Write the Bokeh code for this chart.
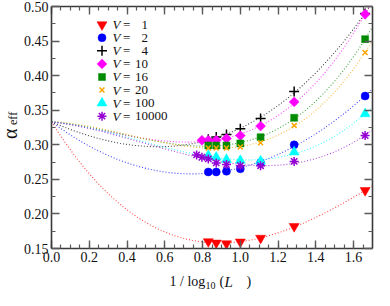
import numpy as np
from bokeh.plotting import figure
from bokeh.layouts import row, column
from bokeh.models import (LinearAxis, Range1d, SingleIntervalTicker,
                          NumeralTickFormatter, CustomJSTickFormatter)
from bokeh.embed import file_html
from bokeh.resources import INLINE
from bokeh.core.properties import value

# ---------------- data ----------------
V_names = ["1", "2", "4", "10", "16", "20", "100", "10000"]

L_V1 = [16, 14, 12, 10, 8, 6, 4]
a_V1 = [0.160, 0.158, 0.157, 0.1595, 0.165, 0.182, 0.234]

L_V2 = [16, 14, 12, 10, 8, 6, 4]
a_V2 = [0.2607, 0.2607, 0.2617, 0.2652, 0.274, 0.2999, 0.3705]

L_V4 = [16, 14, 12, 10, 8, 6, 4]
a_V4 = [0.308, 0.3112, 0.3147, 0.3232, 0.338, 0.3772, 0.490]

L_V10 = [18, 16, 14, 12, 10, 8, 6, 4]
a_V10 = [0.3065, 0.3065, 0.3065, 0.309, 0.3133, 0.327, 0.362, 0.4888]

L_V16 = [16, 14, 12, 10, 8, 6, 4]
a_V16 = [0.299, 0.299, 0.299, 0.302, 0.311, 0.339, 0.4528]

L_V20 = [16, 14, 12, 10, 8, 6, 4]
a_V20 = [0.2954, 0.2954, 0.2954, 0.2968, 0.303, 0.328, 0.4335]

L_V100 = [16, 14, 12, 10, 8, 6, 4]
a_V100 = [0.2845, 0.282, 0.2787, 0.2773, 0.2765, 0.2895, 0.3448]

L_V10000 = [20, 18, 16, 14, 12, 10, 8, 6, 4]
a_V10000 = [0.2854, 0.282, 0.2796, 0.2738, 0.2715, 0.2698, 0.2698, 0.276, 0.3134]

alpha_limit = 1.0 / 3.0   # all fits start from 1/3 at 1/log10(L) = 0

x_tick_interval = 0.2
y_tick_interval = 0.05

series_L = [L_V1, L_V2, L_V4, L_V10, L_V16, L_V20, L_V100, L_V10000]
series_a = [a_V1, a_V2, a_V4, a_V10, a_V16, a_V20, a_V100, a_V10000]

colors = ["#ff0000", "#0000ff", "#000000", "#ff00ff", "#008b00", "#ffa500", "#00ffff", "#9400d3"]
markers = ["inverted_triangle", "circle", "cross", "square", "square", "x", "triangle", "asterisk"]
msizes = [10, 8, 10, 7, 7, 7, 10, 9]
mangles = [0, 0, 0, np.pi / 4, 0, 0, 0, 0]

FONT = "Liberation Serif"
TXT = "#111111"

W, H = 374, 290
YLAB_W = 20
XLAB_H = 24

# ---------------- main figure ----------------
p = figure(width=W - YLAB_W, height=H - XLAB_H, output_backend="svg", toolbar_location=None,
           x_range=Range1d(0.0, 1.7), y_range=Range1d(0.15, 0.50),
           min_border_left=31, min_border_right=2, min_border_top=6, min_border_bottom=18,
           x_axis_location=None, y_axis_location=None)
p.grid.visible = False
p.outline_line_color = None
p.background_fill_color = "white"

xt = SingleIntervalTicker(interval=x_tick_interval, num_minor_ticks=4)
yt = SingleIntervalTicker(interval=y_tick_interval, num_minor_ticks=2)
blank = CustomJSTickFormatter(code="return ''")


def style_axis(ax, labels=True):
    ax.axis_line_color = "#3a3a3a"
    ax.axis_line_width = 1.6
    ax.major_tick_in = 8
    ax.major_tick_out = 0
    ax.minor_tick_in = 4
    ax.minor_tick_out = 0
    ax.major_tick_line_color = "#5a5a5a"
    ax.minor_tick_line_color = "#5a5a5a"
    ax.major_tick_line_width = 1.4
    ax.minor_tick_line_width = 1.2
    ax.major_label_text_font = FONT
    ax.major_label_text_font_size = "14px"
    ax.major_label_text_color = TXT
    ax.major_label_standoff = 3
    if not labels:
        ax.formatter = blank
        ax.major_label_text_font_size = "0px"
        ax.major_label_standoff = 0


bx = LinearAxis(ticker=xt, formatter=NumeralTickFormatter(format="0.0"))
style_axis(bx)
ly = LinearAxis(ticker=yt, formatter=NumeralTickFormatter(format="0.00"))
style_axis(ly)
tx = LinearAxis(ticker=xt)
style_axis(tx, labels=False)
ry = LinearAxis(ticker=yt)
style_axis(ry, labels=False)
p.add_layout(bx, "below")
p.add_layout(ly, "left")
p.add_layout(tx, "above")
p.add_layout(ry, "right")

# ---------------- fits (cubic, constrained to 1/3 at x=0) ----------------
xfit = np.linspace(0.0, 1.7, 300)
for L, a, c in zip(series_L, series_a, colors):
    x = 1.0 / np.log10(np.array(L, dtype=float))
    A = np.vstack([x, x ** 2, x ** 3]).T
    coef, *_ = np.linalg.lstsq(A, np.array(a) - alpha_limit, rcond=None)
    yfit = alpha_limit + coef[0] * xfit + coef[1] * xfit ** 2 + coef[2] * xfit ** 3
    p.line(xfit, yfit, line_color=c, line_width=1.1, line_dash="1 2", line_alpha=0.75)

# ---------------- points ----------------
for L, a, c, m, s, ang in zip(series_L, series_a, colors, markers, msizes, mangles):
    x = 1.0 / np.log10(np.array(L, dtype=float))
    if m in ("cross", "x", "asterisk"):
        p.scatter(x, a, marker=m, size=s, line_color=c, line_width=1.5, angle=ang)
    else:
        p.scatter(x, a, marker=m, size=s, fill_color=c, line_color=c, line_width=0.5, angle=ang)

# ---------------- legend (drawn by hand so that V is italic) ----------------
leg_top = 0.4737
leg_step = 0.0189
leg_marker_x = 0.2675
leg_text_x = 0.323
for i, (name, c, m, s, ang) in enumerate(zip(V_names, colors, markers, msizes, mangles)):
    yy = leg_top - i * leg_step
    if m in ("cross", "x", "asterisk"):
        p.scatter([leg_marker_x], [yy], marker=m, size=s, line_color=c, line_width=1.5, angle=ang)
    else:
        p.scatter([leg_marker_x], [yy], marker=m, size=s, fill_color=c, line_color=c,
                  line_width=0.5, angle=ang)
    p.text([leg_text_x], [yy], text=["V"], text_font=value(FONT), text_font_style="italic",
           text_font_size="13px", text_baseline="middle", text_align="left", text_color=TXT)
    p.text([leg_text_x], [yy], text=["="], x_offset=10.5, text_font=value(FONT),
           text_font_size="13px", text_baseline="middle", text_align="left", text_color=TXT)
    off = 22.5 if len(name) > 1 else 29
    p.text([leg_text_x], [yy], text=[name], x_offset=off, text_font=value(FONT),
           text_font_size="13px", text_baseline="middle", text_align="left", text_color=TXT)


# ---------------- axis titles in small side figures (pixel data units) ----------------
def text_strip(w, h):
    f = figure(width=w, height=h, output_backend="svg", toolbar_location=None,
               x_range=Range1d(0, w), y_range=Range1d(0, h), min_border=0,
               x_axis_location=None, y_axis_location=None)
    f.grid.visible = False
    f.outline_line_color = None
    f.background_fill_color = "white"
    return f


yh = H - XLAB_H
yfig = text_strip(YLAB_W, yh)
yfig.text([9], [yh - 140], text=["α"], angle=np.pi / 2, text_font=value(FONT),
          text_font_size="20px", text_align="center", text_baseline="middle", text_color=TXT)
yfig.text([12.5], [yh - 123], text=["eff"], angle=np.pi / 2, text_font=value(FONT),
          text_font_size="12px", text_align="center", text_baseline="middle", text_color=TXT)

xfig = text_strip(W, XLAB_H)
x0 = 169
yb = 9
xfig.text([x0], [yb], text=["1 / log"], text_font=value(FONT), text_font_size="14px",
          text_align="left", text_baseline="alphabetic", text_color=TXT)
xfig.text([x0 + 36], [yb - 4], text=["10"], text_font=value(FONT), text_font_size="10px",
          text_align="left", text_baseline="alphabetic", text_color=TXT)
xfig.text([x0 + 50], [yb], text=["("], text_font=value(FONT), text_font_size="14px",
          text_align="left", text_baseline="alphabetic", text_color=TXT)
xfig.text([x0 + 55], [yb], text=["L"], text_font=value(FONT), text_font_size="15px",
          text_font_style="italic", text_align="left", text_baseline="alphabetic", text_color=TXT)
xfig.text([x0 + 77], [yb], text=[")"], text_font=value(FONT), text_font_size="14px",
          text_align="left", text_baseline="alphabetic", text_color=TXT)

layout = column(row(yfig, p, spacing=0), xfig, spacing=0)
open("out.html", "w").write(file_html(layout, INLINE))
